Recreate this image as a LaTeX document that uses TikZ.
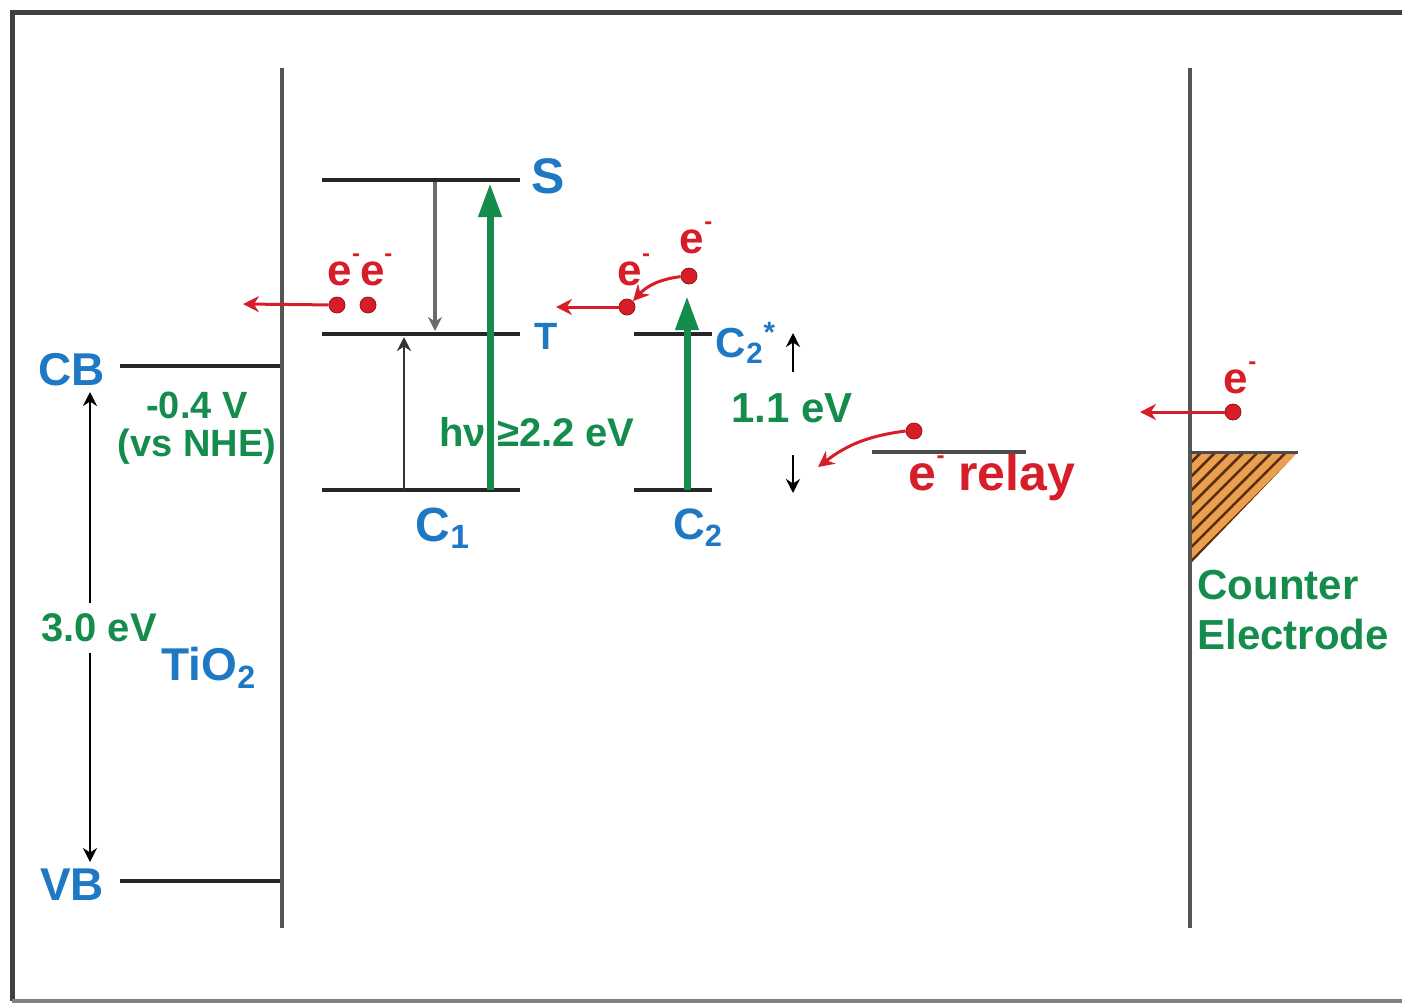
\documentclass[tikz,border=0pt]{standalone}
\usepackage{fontspec}
\setmainfont{Liberation Sans}
\usetikzlibrary{arrows.meta, positioning, patterns.meta}
\definecolor{levelblue}{RGB}{30,120,195}
\definecolor{levelgreen}{RGB}{20,140,75}
\definecolor{elecred}{RGB}{215,30,40}
\definecolor{wallgray}{RGB}{85,85,85}
\definecolor{hatchorange}{RGB}{235,160,80}
\definecolor{hatchbrown}{RGB}{90,45,10}
\newcommand{\eminus}{e\raisebox{0.55em}{\fontsize{12}{12}\selectfont -}}
\tikzset{
  level/.style={line width=2pt, draw=black!85},
  wall/.style={line width=2pt, draw=wallgray},
  lbl/.style={text=levelblue, font=\bfseries\fontsize{23}{25}\selectfont, inner sep=0pt},
  val/.style={text=levelgreen, font=\bfseries\fontsize{20}{23}\selectfont, inner sep=0pt},
  elec/.style={circle, fill=elecred, draw=elecred!70!black, inner sep=0pt, minimum size=8pt},
  etext/.style={text=elecred, font=\bfseries\fontsize{22}{24}\selectfont, inner sep=0pt},
  pump/.style={-{Triangle[length=17pt, width=11pt]}, line width=3.5pt, draw=levelgreen},
  relax/.style={-{Stealth[length=7pt, width=7pt]}, line width=1.4pt},
  hop/.style={-{Stealth[length=8pt, width=8pt]}, line width=1.5pt, draw=elecred},
}
\begin{document}
\begin{tikzpicture}[x=0.5pt, y=-0.5pt]
  \useasboundingbox (0,0) rectangle (1402,1003);
  % frame
  \draw[line width=2.5pt, draw=black!75] (1406,12) -- (12,12) -- (12,1001);
  \draw[line width=2pt, draw=black!50] (12,1001) -- (1406,1001);

  % electrodes
  \coordinate (tio2top) at (282,68);
  \coordinate (tio2bot) at (282,928);
  \coordinate (cetop) at (1190,68);
  \coordinate (cebot) at (1190,928);
  \draw[wall] (tio2top) -- (tio2bot);
  \draw[wall] (cetop) -- (cebot);

  % TiO2 bands
  \draw[level] (120,366) -- (280,366);
  \draw[level] (120,881) -- (280,881);
  \node[lbl] (cb) at (72,370) {CB};
  \node[lbl] (vb) at (72,885) {VB};
  \node[val, font=\bfseries\fontsize{19}{22}\selectfont] (cbpot) at (197,405) {-0.4 V};
  \node[val, font=\bfseries\fontsize{19}{22}\selectfont] (nhe) at (197,447) {(vs NHE)};
  \node[val, inner sep=5pt] (gap) at (99,628) {3.0 eV};
  \node[lbl] (tio2) at (209,668) {TiO\textsubscript{2}};
  \coordinate (gapup) at (90,392);
  \coordinate (gapdn) at (90,862);
  \draw[relax] (gap.north -| gapup) -- (gapup);
  \draw[relax] (gap.south -| gapdn) -- (gapdn);

  % dye C1 levels
  \draw[level] (322,180) -- (520,180);
  \draw[level] (322,334) -- (520,334);
  \draw[level] (322,490) -- (520,490);
  \node[lbl, font=\bfseries\fontsize{25}{27}\selectfont] (s) at (548,176) {S};
  \node[lbl, font=\bfseries\fontsize{19}{21}\selectfont] (t) at (546,336) {T};
  \node[lbl, font=\bfseries\fontsize{24}{26}\selectfont] (c1) at (443,528) {C\textsubscript{1}};
  \draw[relax, draw=gray!85!black, line width=2pt] (435,182) -- (435,331);
  \draw[relax, draw=black!80] (404,490) -- (404,337);
  \draw[pump] (490,490) -- (490,183);
  \node[val] (hnu) at (537,432) {hν ≥2.2 eV};

  % dye C2 levels
  \draw[level] (634,334) -- (712,334);
  \draw[level] (634,490) -- (712,490);
  \node[lbl, font=\bfseries\fontsize{22}{24}\selectfont] (c2) at (698,528) {C\textsubscript{2}};
  \node[lbl, font=\bfseries\fontsize{21}{23}\selectfont] (c2s) at (746,343) {C\textsubscript{2}\textsuperscript{*}};
  \draw[pump] (687,490) -- (687,296);
  \node[val, font=\bfseries\fontsize{21}{23}\selectfont] (dE) at (792,408) {1.1 eV};
  \draw[relax] (793,372) -- (793,333);
  \draw[relax] (793,455) -- (793,493);

  % electrons
  \node[elec] (e1) at (337,305) {};
  \node[elec] (e2) at (368,305) {};
  \node[etext] (ee) at (360,270) {\eminus\eminus};
  \coordinate (inject1) at (243,304);
  \draw[hop] (e1) -- (inject1);

  \node[elec] (e3) at (627,307) {};
  \node[etext] at (634,270) {\eminus};
  \coordinate (inject2) at (556,307);
  \draw[hop] (e3) -- (inject2);

  \node[elec] (e4) at (689,276) {};
  \node[etext] at (696,238) {\eminus};
  \draw[hop] (e4) to[bend right=20] (e3.north east);

  % relay
  \draw[level, draw=black!70] (872,452) -- (1026,452);
  \node[elec] (e5) at (914,431) {};
  \node[etext, font=\bfseries\fontsize{25}{27}\selectfont] (relay) at (992,478) {\eminus\ relay};
  \coordinate (relayto) at (818,467);
  \draw[hop] (e5.west) to[bend right=15] (relayto);

  % counter electrode
  \node[elec] (e6) at (1233,412) {};
  \node[etext] at (1240,378) {\eminus};
  \coordinate (back) at (1140,412);
  \draw[hop] (e6) -- (back);
  \fill[hatchorange] (1192,452) -- (1298,452) -- (1192,562) -- cycle;
  \fill[pattern={Lines[angle=45, distance=5pt, line width=1.3pt]}, pattern color=hatchbrown] (1192,452) -- (1298,452) -- (1192,562) -- cycle;
  \draw[line width=1.5pt, draw=black!70] (1190,452) -- (1298,452);
  \node[val, font=\bfseries\fontsize{21}{23}\selectfont, anchor=west] (counter) at (1197,585) {Counter};
  \node[val, font=\bfseries\fontsize{21}{23}\selectfont, anchor=west] (electrode) at (1197,634) {Electrode};
\end{tikzpicture}
\end{document}
